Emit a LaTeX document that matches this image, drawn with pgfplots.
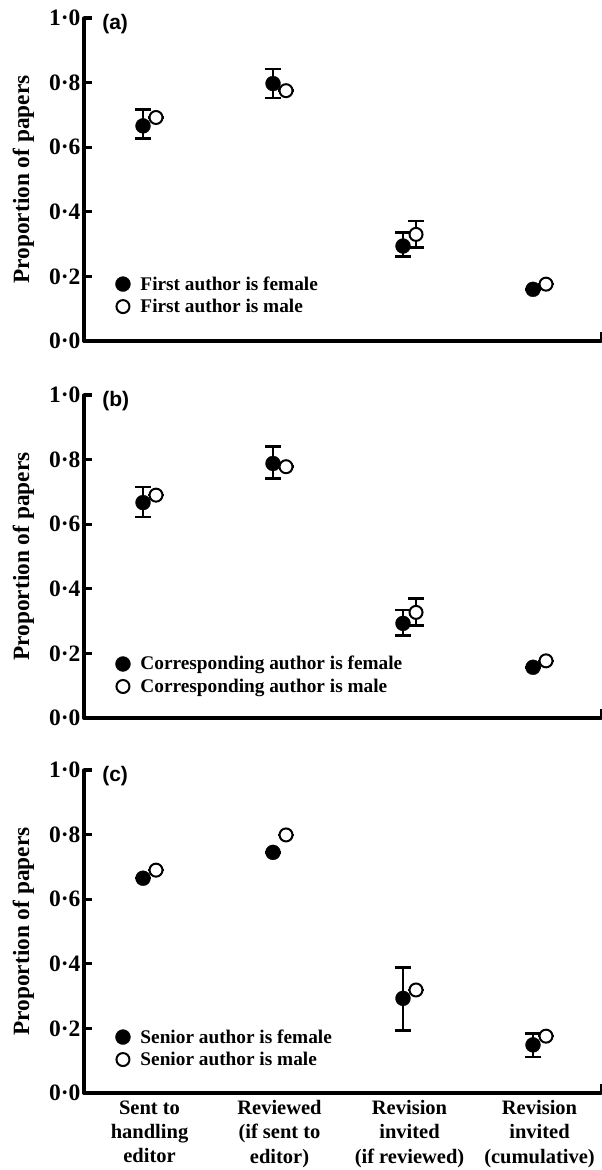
\documentclass[border=0pt]{standalone}
\usepackage{fontspec}
\setmainfont{Liberation Serif}
\newfontfamily\panelfont{Liberation Sans}
\usepackage{pgfplots}
\pgfplotsset{compat=1.18}
\usepackage{pgfplotstable}

% panel (a): first author
\pgfplotstableread{
x    y     ep    em
0.95 0.666 0.051 0.039
1.95 0.797 0.045 0.044
2.95 0.294 0.042 0.033
3.95 0.160 0.000 0.000
}\Afem
\pgfplotstableread{
x    y     ep    em
1.05 0.692 0.000 0.000
2.05 0.775 0.000 0.000
3.05 0.330 0.042 0.041
4.05 0.176 0.000 0.000
}\Amal
% panel (b): corresponding author
\pgfplotstableread{
x    y     ep    em
0.95 0.667 0.048 0.045
1.95 0.788 0.052 0.047
2.95 0.293 0.041 0.038
3.95 0.157 0.000 0.000
}\Bfem
\pgfplotstableread{
x    y     ep    em
1.05 0.690 0.000 0.000
2.05 0.778 0.000 0.000
3.05 0.327 0.043 0.041
4.05 0.177 0.000 0.000
}\Bmal
% panel (c): senior author
\pgfplotstableread{
x    y     ep    em
0.95 0.665 0.000 0.000
1.95 0.745 0.000 0.000
2.95 0.293 0.096 0.100
3.95 0.149 0.036 0.038
}\Cfem
\pgfplotstableread{
x    y     ep    em
1.05 0.690 0.000 0.000
2.05 0.799 0.000 0.000
3.05 0.319 0.000 0.000
4.05 0.176 0.000 0.000
}\Cmal

\pgfplotsset{
  panel/.style={
    scale only axis, width=517pt, height=323pt,
    xmin=0.496, xmax=4.473, ymin=0, ymax=1,
    clip=false,
    axis lines=left,
    axis line style={-, line width=3.5pt, line cap=round, black},
    tick align=inside,
    major tick length=8pt,
    tick style={line width=3.3pt, black},
    major x tick style={draw=none},
    xtick={1,2,3,4},
    xticklabels={},
    ytick={0,0.2,0.4,0.6,0.8,1},
    yticklabels={\textbf{0·0},\textbf{0·2},\textbf{0·4},\textbf{0·6},\textbf{0·8},\textbf{1·0}},
    yticklabel style={font=\fontsize{23.5}{25}\selectfont\bfseries},
    ylabel={Proportion of papers},
    ylabel style={font=\fontsize{23.3}{25}\selectfont\bfseries, at={(axis description cs:-0.117,0.5)}, anchor=center},
    legend style={draw=none, fill=none, inner sep=0pt, outer sep=0pt,
      font=\fontsize{19.3}{23}\selectfont\bfseries,
      cells={anchor=base west},
      nodes={inner sep=0pt, text height=14pt, text depth=4pt},
      row sep=4.5pt,
      /tikz/every odd column/.append style={column sep=10pt}},
    after end axis/.code={\draw[line width=1.2pt, black] (rel axis cs:1,0) -- ++(0pt,9pt);},
  },
  fem/.style={only marks, mark=*, mark size=7.5pt,
    mark options={fill=black, draw=black, line width=0.3pt},
    error bars/y dir=both, error bars/y explicit,
    error bars/error bar style={line width=2pt, black},
    error bars/error mark options={rotate=90, line width=2.5pt, mark size=8pt, black},
    legend image code/.code={\draw[only marks, mark=*, mark size=7.5pt, mark options={fill=black, draw=black, line width=0.3pt}] plot coordinates {(0pt,6pt)};}},
  mal/.style={only marks, mark=*, mark size=6.5pt,
    mark options={fill=white, draw=black, line width=2pt},
    error bars/y dir=both, error bars/y explicit,
    error bars/error bar style={line width=2pt, black},
    error bars/error mark options={rotate=90, line width=2.5pt, mark size=8pt, black},
    legend image code/.code={\draw[only marks, mark=*, mark size=6.5pt, mark options={fill=white, draw=black, line width=2pt}] plot coordinates {(0pt,6pt)};}},
}

\begin{document}
\begin{tikzpicture}
\useasboundingbox (0pt,0pt) rectangle (602pt,-1170pt);

% (a)
\begin{axis}[panel, at={(84pt,-341pt)}, anchor=south west,
  legend style={at={(axis cs:0.738,0.201)}, anchor=north west}]
  \addplot[fem] table[x=x, y=y, y error plus=ep, y error minus=em] {\Afem};
  \addplot[mal] table[x=x, y=y, y error plus=ep, y error minus=em] {\Amal};
  \legend{First author is female, First author is male}
  \node[anchor=base west, inner sep=0pt, font={\panelfont\bfseries\fontsize{21}{23}\selectfont}] at (rel axis cs:0.035,0.965) {(a)};
\end{axis}

% (b)
\begin{axis}[panel, at={(84pt,-718pt)}, anchor=south west,
  legend style={at={(axis cs:0.738,0.192)}, anchor=north west}]
  \addplot[fem] table[x=x, y=y, y error plus=ep, y error minus=em] {\Bfem};
  \addplot[mal] table[x=x, y=y, y error plus=ep, y error minus=em] {\Bmal};
  \legend{Corresponding author is female, Corresponding author is male}
  \node[anchor=base west, inner sep=0pt, font={\panelfont\bfseries\fontsize{21}{23}\selectfont}] at (rel axis cs:0.035,0.963) {(b)};
\end{axis}

% (c)
\begin{axis}[panel, at={(84pt,-1093pt)}, anchor=south west,
  xticklabels={Sent to\\handling\\editor, Reviewed\\(if sent to\\editor), Revision\\invited\\(if reviewed), Revision\\invited\\(cumulative)},
  xticklabel style={align=center, yshift=-4pt, font=\fontsize{20.5}{24.2}\selectfont\bfseries},
  legend style={at={(axis cs:0.738,0.198)}, anchor=north west}]
  \addplot[fem] table[x=x, y=y, y error plus=ep, y error minus=em] {\Cfem};
  \addplot[mal] table[x=x, y=y, y error plus=ep, y error minus=em] {\Cmal};
  \legend{Senior author is female, Senior author is male}
  \node[anchor=base west, inner sep=0pt, font={\panelfont\bfseries\fontsize{21}{23}\selectfont}] at (rel axis cs:0.035,0.965) {(c)};
\end{axis}
\end{tikzpicture}
\end{document}
